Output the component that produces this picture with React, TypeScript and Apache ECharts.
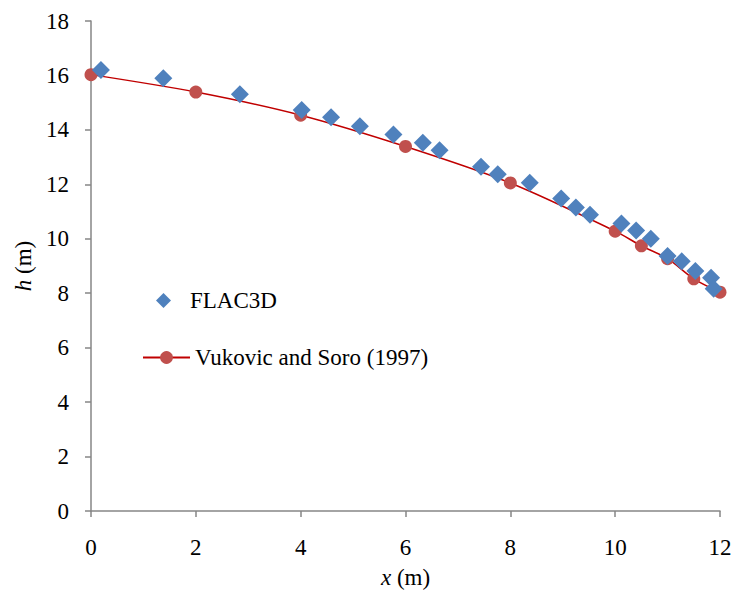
import React, { useEffect, useRef } from "react";
import * as echarts from "echarts";

const flacX = [0.19, 1.38, 2.84, 4.02, 4.58, 5.13, 5.77, 6.33, 6.65, 7.44, 7.76, 8.37, 8.97, 9.25, 9.52, 10.12, 10.4, 10.68, 11.0, 11.27, 11.53, 11.83, 11.88];
const flacH = [16.2, 15.9, 15.31, 14.73, 14.46, 14.13, 13.83, 13.53, 13.25, 12.65, 12.37, 12.06, 11.48, 11.15, 10.88, 10.56, 10.3, 10.0, 9.37, 9.17, 8.82, 8.57, 8.16];
const vukX = [0, 2, 4, 6, 8, 10, 10.5, 11, 11.5, 12];
const vukH = [16.03, 15.39, 14.54, 13.39, 12.05, 10.28, 9.74, 9.27, 8.53, 8.04];

const xTicks = [0, 2, 4, 6, 8, 10, 12];
const yTicks = [0, 2, 4, 6, 8, 10, 12, 14, 16, 18];

const FONT = "Liberation Serif, Times New Roman, serif";
const FS = 23;

export default function App() {
  const ref = useRef<HTMLDivElement>(null);
  useEffect(() => {
    if (!ref.current) return;
    const chart = echarts.init(ref.current, undefined, { renderer: "svg" });
    const txt = { color: "#000", fontFamily: FONT, fontSize: FS };
    const rich = { i: { ...txt, fontStyle: "italic" }, n: { ...txt } };
    const axisCommon = {
      type: "value",
      axisLine: { show: true, lineStyle: { color: "#868686", width: 1.5 } },
      axisTick: { show: true, inside: false, length: 6, lineStyle: { color: "#868686", width: 1.5 } },
      splitLine: { show: false },
      axisLabel: { ...txt },
    };
    chart.setOption({
      animation: false,
      backgroundColor: "#fff",
      textStyle: { fontFamily: FONT },
      grid: { left: 91, right: 15, top: 21, bottom: 81, containLabel: false },
      xAxis: {
        ...axisCommon,
        min: xTicks[0],
        max: xTicks[xTicks.length - 1],
        interval: 2,
        axisLabel: { ...axisCommon.axisLabel, margin: 25 },
        name: "{i|x}{n| (m)}",
        nameLocation: "middle",
        nameGap: 55,
        nameTextStyle: { ...txt, rich },
      },
      yAxis: {
        ...axisCommon,
        min: yTicks[0],
        max: yTicks[yTicks.length - 1],
        interval: 2,
        axisLabel: { ...axisCommon.axisLabel, margin: 22 },
        name: "{i|h}{n| (m)}",
        nameLocation: "middle",
        nameGap: 47,
        nameRotate: 90,
        nameTextStyle: { ...txt, rich },
      },
      legend: [
        {
          orient: "vertical",
          left: 151,
          top: 284,
          itemWidth: 15,
          itemHeight: 15,
          textStyle: { ...txt, padding: [0, 0, 0, 14] },
          data: [{ name: "FLAC3D", icon: "diamond" }],
        },
        {
          orient: "vertical",
          left: 137,
          top: 341,
          itemWidth: 47,
          itemHeight: 16,
          textStyle: { ...txt },
          data: [{ name: "Vukovic and Soro (1997)" }],
        },
      ],
      series: [
        {
          name: "Vukovic and Soro (1997)",
          type: "line",
          data: vukX.map((x, i) => [x, vukH[i]]),
          smooth: 0.3,
          symbol: "circle",
          symbolSize: 13,
          lineStyle: { color: "#C00000", width: 1.5 },
          itemStyle: { color: "#C0504D" },
          z: 2,
        },
        {
          name: "FLAC3D",
          type: "scatter",
          data: flacX.map((x, i) => [x, flacH[i]]),
          symbol: "diamond",
          symbolSize: [18, 18],
          itemStyle: { color: "#4F81BD", opacity: 1 },
          z: 3,
        },
      ],
    });
    return () => chart.dispose();
  }, []);
  return <div ref={ref} style={{ width: 735, height: 594, position: "absolute", left: 0, top: 0 }} />;
}
